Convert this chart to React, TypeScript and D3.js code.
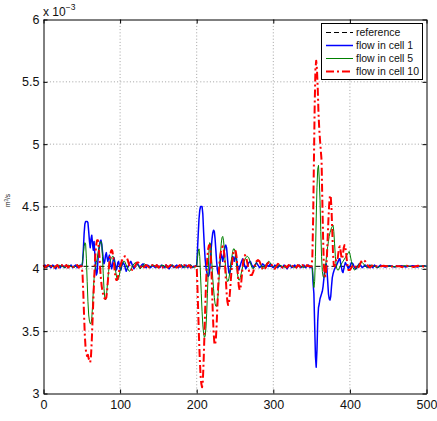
import * as d3 from "d3";
import { useEffect, useRef } from "react";

// flow (x 10^-3 m^3/s) against time step
type Pt = [number, number];

const X_TICKS = [0, 100, 200, 300, 400, 500];
const Y_TICKS = [3, 3.5, 4, 4.5, 5, 5.5, 6];
const SERIES_NAMES = ["reference", "flow in cell 1", "flow in cell 5", "flow in cell 10"];

const REFERENCE: Pt[] = [[0, 4.02], [500, 4.02]];

const CELL1: Pt[] = [
  [0,4.02],[2,4.03],[4,4.01],[6,4.03],[8,4.02],[10,4.01],[12,4.03],[14,4.02],[16,4.00],[18,4.03],[20,4.02],[22,4.01],[24,4.03],[26,4.02],[28,4.01],[30,4.03],[32,4.01],[34,4.02],[36,4.03],[38,4.01],[40,4.02],[42,4.03],[44,4.01],[46,4.02],[48,4.03],[50,4.02],
  [51,4.05],[52,4.15],[53,4.28],[54,4.36],[55,4.38],[57,4.38],[58,4.37],[59,4.30],[60,4.22],[61,4.17],[62,4.24],[63,4.27],[64,4.20],[65,4.15],[66,4.22],[67,4.12],[68,4.00],[69,3.95],[70,3.97],[71,4.06],[72,4.14],[73,4.18],[74,4.22],[75,4.23],[76,4.20],[77,4.14],[78,4.08],[79,4.04],[80,4.06],[81,4.11],[82,4.13],[83,4.09],[84,4.06],[85,4.09],[86,4.11],[87,4.07],[88,4.03],[89,4.00],[90,4.03],[91,4.07],[92,4.09],[93,4.06],[94,4.02],[95,3.99],[96,4.01],[97,4.05],[98,4.06],[99,4.03],[100,4.00],[101,3.99],[102,4.02],[104,4.05],[106,4.03],[107,4.00],[108,3.98],[110,4.01],[112,4.04],[114,4.06],[116,4.03],[118,4.00],[120,4.02],[122,4.05],[124,4.03],[126,4.01],[128,4.03],[130,4.04],[132,4.02],[134,4.01],[136,4.03],[138,4.02],[140,4.01],[142,4.03],[144,4.02],
  [146,4.01],[148,4.03],[150,4.02],[152,4.01],[154,4.03],[156,4.02],[158,4.01],[160,4.03],[162,4.02],[164,4.00],[166,4.02],[168,4.03],[170,4.01],[172,4.02],[174,4.03],[176,4.01],[178,4.02],[180,4.03],[182,4.01],[184,4.02],[186,4.03],[188,4.01],[190,4.02],[192,4.03],[194,4.01],[196,4.02],[198,4.02],
  [200,4.03],[201,4.15],[202,4.28],[203,4.40],[204,4.47],[205,4.50],[207,4.50],[208,4.44],[209,4.30],[210,4.18],[211,4.08],[212,4.02],[213,3.98],[214,3.95],[215,3.94],[216,3.95],[217,3.99],[218,4.08],[219,4.17],[220,4.24],[221,4.29],[222,4.31],[223,4.30],[224,4.24],[225,4.15],[226,4.06],[227,3.99],[228,3.96],[229,3.97],[230,4.02],[231,4.08],[232,4.12],[233,4.10],[234,4.06],[235,4.09],[236,4.14],[237,4.18],[238,4.19],[239,4.17],[240,4.10],[241,4.02],[242,3.97],[243,3.96],[244,3.99],[245,4.04],[246,4.08],[247,4.10],[248,4.09],[249,4.06],[250,4.09],[251,4.11],[252,4.08],[253,4.03],[254,4.00],[255,3.99],[256,4.01],[258,4.05],[260,4.08],[261,4.07],[262,4.04],[264,4.00],[266,4.02],[268,4.05],[270,4.06],[272,4.03],[274,4.01],[276,4.03],[278,4.05],[280,4.03],[282,4.01],[284,4.02],[286,4.04],[288,4.03],[290,4.01],[292,4.03],[294,4.02],[296,4.04],[298,4.02],[300,4.01],
  [302,4.03],[304,4.02],[306,4.01],[308,4.03],[310,4.02],[312,4.01],[314,4.03],[316,4.02],[318,4.00],[320,4.02],[322,4.03],[324,4.01],[326,4.02],[328,4.03],[330,4.01],[332,4.02],[334,4.03],[336,4.01],[338,4.02],[340,4.03],[342,4.01],[344,4.02],[346,4.03],[348,4.01],[350,4.02],
  [351,4.00],[352,3.88],[353,3.80],[354,3.55],[355,3.30],[356,3.21],[357,3.35],[358,3.58],[359,3.69],[360,3.72],[361,3.76],[362,3.78],[363,3.80],[364,3.82],[365,3.86],[366,3.92],[367,3.98],[368,4.03],[369,4.04],[370,4.00],[371,3.90],[372,3.80],[373,3.76],[374,3.75],[375,3.78],[376,3.86],[377,3.93],[378,3.96],[379,3.98],[380,4.00],[382,4.02],[384,4.05],[386,4.08],[387,4.08],[388,4.04],[390,3.98],[391,3.97],[392,4.00],[394,4.05],[396,4.03],[398,4.00],[400,4.02],[402,4.05],[404,4.04],[406,4.01],[408,4.00],[410,4.02],[412,4.04],[414,4.03],[416,4.01],[418,4.02],[420,4.03],[422,4.02],
  [424,4.01],[426,4.03],[428,4.02],[430,4.01],[432,4.03],[434,4.02],[436,4.01],[438,4.02],[440,4.03],[443,4.02],[446,4.015],[449,4.02],[452,4.025],[455,4.02],[458,4.015],[461,4.02],[464,4.02],[467,4.025],[470,4.02],[473,4.015],[476,4.02],[479,4.02],[482,4.025],[485,4.02],[488,4.015],[491,4.02],[494,4.02],[497,4.025],[500,4.02],
];

const CELL5: Pt[] = [
  [0,4.02],[4,4.01],[8,4.03],[12,4.02],[16,4.01],[20,4.03],[24,4.02],[28,4.01],[32,4.03],[36,4.02],[40,4.01],[44,4.03],[48,4.02],
  [50,4.02],[51,4.06],[52,4.12],[53,4.18],[54,4.21],[55,4.20],[56,4.08],[57,3.90],[58,3.74],[59,3.63],[60,3.58],[61,3.56],[62,3.56],[63,3.60],[64,3.70],[65,3.82],[66,3.92],[67,3.98],[68,4.02],[69,4.05],[70,4.08],[71,4.12],[72,4.16],[73,4.19],[74,4.21],[75,4.22],[76,4.20],[77,4.10],[78,3.96],[79,3.84],[80,3.77],[81,3.75],[82,3.77],[83,3.84],[84,3.92],[85,3.98],[86,4.03],[87,4.06],[88,4.08],[89,4.09],[90,4.10],[91,4.10],[92,4.08],[93,4.04],[94,3.99],[95,3.95],[96,3.92],[97,3.91],[98,3.92],[99,3.95],[100,3.98],[102,4.03],[104,4.06],[106,4.06],[108,4.03],[110,4.00],[112,3.98],[114,3.99],[116,4.02],[118,4.04],[120,4.05],[122,4.04],[124,4.02],[126,4.00],[128,4.01],[130,4.03],[132,4.04],[134,4.03],[136,4.02],[138,4.01],[140,4.02],
  [144,4.03],[148,4.01],[152,4.02],[156,4.03],[160,4.01],[164,4.02],[168,4.03],[172,4.01],[176,4.02],[180,4.03],[184,4.01],[188,4.02],[192,4.03],[196,4.01],
  [200,4.02],[201,4.08],[202,4.14],[203,4.16],[204,4.10],[205,3.95],[206,3.80],[207,3.66],[208,3.55],[209,3.48],[210,3.45],[211,3.46],[212,3.52],[213,3.64],[214,3.80],[215,3.98],[216,4.14],[217,4.21],[218,4.20],[219,4.12],[220,4.02],[221,3.92],[222,3.84],[223,3.77],[224,3.72],[225,3.70],[226,3.70],[227,3.73],[228,3.80],[229,3.90],[230,4.02],[231,4.12],[232,4.20],[233,4.25],[234,4.26],[235,4.23],[236,4.16],[237,4.07],[238,3.99],[239,3.93],[240,3.90],[241,3.90],[242,3.92],[243,3.96],[244,4.01],[245,4.06],[246,4.10],[247,4.14],[248,4.16],[249,4.16],[250,4.14],[251,4.09],[252,4.03],[253,3.97],[254,3.93],[255,3.91],[256,3.91],[257,3.93],[258,3.96],[260,4.02],[262,4.06],[264,4.09],[266,4.10],[268,4.09],[270,4.05],[272,4.01],[274,4.00],[276,4.02],[278,4.05],[280,4.07],[282,4.06],[284,4.03],[286,4.00],[288,4.01],[290,4.03],[292,4.05],[294,4.06],[296,4.05],[298,4.03],[300,4.02],
  [304,4.01],[308,4.03],[312,4.02],[316,4.01],[320,4.03],[324,4.02],[328,4.01],[332,4.03],[336,4.02],[340,4.01],[344,4.03],[348,4.02],
  [350,4.02],[351,4.00],[352,3.92],[353,3.85],[354,3.90],[355,4.10],[356,4.40],[357,4.65],[358,4.80],[359,4.83],[360,4.72],[361,4.55],[362,4.30],[363,4.10],[364,3.98],[365,3.94],[366,3.93],[367,3.95],[368,4.00],[369,4.07],[370,4.13],[371,4.18],[372,4.22],[373,4.26],[374,4.29],[375,4.31],[376,4.33],[377,4.34],[378,4.35],[379,4.30],[380,4.20],[381,4.10],[382,4.03],[383,4.00],[384,3.99],[385,3.99],[386,4.00],[388,4.03],[390,4.05],[392,4.07],[394,4.09],[396,4.11],[398,4.13],[399,4.14],[400,4.12],[402,4.06],[404,4.01],[406,3.99],[408,4.00],[410,4.02],[412,4.04],[414,4.05],[416,4.05],[418,4.04],[420,4.02],[422,4.01],[424,4.02],
  [428,4.03],[432,4.02],[436,4.01],[440,4.02],[444,4.02],[448,4.025],[452,4.02],[456,4.02],[460,4.015],[464,4.02],[468,4.02],[472,4.025],[476,4.02],[480,4.02],[484,4.015],[488,4.02],[492,4.02],[496,4.025],[500,4.02],
];

const CELL10: Pt[] = [
  [0,4.03],[2,4.01],[4,4.02],[6,4.03],[8,4.01],[10,4.02],[12,4.03],[14,4.01],[16,4.02],[18,4.03],[20,4.01],[22,4.02],[24,4.03],[26,4.01],[28,4.02],[30,4.03],[32,4.01],[34,4.02],[36,4.03],[38,4.02],[40,4.01],[42,4.02],[44,4.03],[46,4.01],[48,4.02],
  [50,4.02],[51,3.95],[52,3.80],[53,3.62],[54,3.46],[55,3.36],[56,3.32],[57,3.30],[58,3.31],[59,3.28],[60,3.26],[61,3.25],[62,3.30],[63,3.42],[64,3.58],[65,3.74],[66,3.90],[67,4.04],[68,4.14],[69,4.20],[70,4.23],[71,4.23],[72,4.18],[73,4.10],[74,4.00],[75,3.92],[76,3.86],[77,3.82],[78,3.79],[79,3.77],[80,3.76],[81,3.76],[82,3.77],[83,3.82],[84,3.90],[85,3.98],[86,4.06],[87,4.11],[88,4.14],[89,4.15],[90,4.14],[91,4.10],[92,4.04],[93,3.98],[94,3.93],[95,3.91],[96,3.91],[97,3.93],[98,3.96],[100,4.02],[102,4.06],[104,4.09],[106,4.10],[108,4.10],[110,4.07],[112,4.03],[114,4.00],[116,3.99],[118,4.00],[120,4.03],[122,4.05],[124,4.05],[126,4.03],[128,4.01],[130,4.00],[132,4.02],[134,4.03],[136,4.02],[138,4.01],[140,4.02],
  [142,4.03],[144,4.01],[146,4.02],[148,4.03],[150,4.01],[152,4.02],[154,4.03],[156,4.01],[158,4.02],[160,4.03],[162,4.01],[164,4.02],[166,4.03],[168,4.01],[170,4.02],[172,4.03],[174,4.01],[176,4.02],[178,4.03],[180,4.01],[182,4.02],[184,4.03],[186,4.01],[188,4.02],[190,4.03],[192,4.01],[194,4.02],[196,4.03],[198,4.02],
  [200,4.02],[201,3.85],[202,3.65],[203,3.45],[204,3.28],[205,3.15],[206,3.08],[207,3.05],[208,3.10],[209,3.25],[210,3.45],[211,3.66],[212,3.85],[213,4.00],[214,4.10],[215,4.16],[216,4.19],[217,4.19],[218,4.15],[219,4.02],[220,3.85],[221,3.65],[222,3.50],[223,3.41],[224,3.39],[225,3.43],[226,3.55],[227,3.70],[228,3.85],[229,3.98],[230,4.07],[231,4.12],[232,4.15],[233,4.17],[234,4.18],[235,4.17],[236,4.12],[237,4.03],[238,3.92],[239,3.81],[240,3.74],[241,3.71],[242,3.72],[243,3.78],[244,3.86],[245,3.95],[246,4.03],[247,4.09],[248,4.13],[249,4.15],[250,4.15],[251,4.14],[252,4.10],[253,4.02],[254,3.93],[255,3.86],[256,3.83],[257,3.84],[258,3.88],[259,3.95],[260,4.02],[261,4.07],[262,4.10],[263,4.11],[264,4.10],[265,4.08],[266,4.05],[268,3.99],[270,3.95],[272,3.95],[274,3.98],[276,4.03],[278,4.06],[280,4.07],[282,4.06],[284,4.03],[286,4.00],[288,3.99],[290,4.01],[292,4.04],[294,4.05],[296,4.05],[298,4.03],[300,4.01],[302,4.00],[304,4.02],[306,4.04],[308,4.03],[310,4.02],
  [312,4.01],[314,4.03],[316,4.02],[318,4.01],[320,4.03],[322,4.02],[324,4.01],[326,4.03],[328,4.02],[330,4.01],[332,4.03],[334,4.02],[336,4.01],[338,4.03],[340,4.02],[342,4.01],[344,4.03],[346,4.02],[348,4.02],
  [350,4.02],[351,4.10],[352,4.40],[353,4.85],[354,5.30],[355,5.60],[356,5.67],[357,5.60],[358,5.45],[359,5.25],[360,5.12],[361,5.03],[362,4.95],[363,4.87],[364,4.55],[365,4.25],[366,4.03],[367,3.95],[368,3.94],[369,3.99],[370,4.10],[371,4.25],[372,4.40],[373,4.52],[374,4.59],[375,4.58],[376,4.48],[377,4.30],[378,4.12],[379,4.03],[380,4.02],[381,4.05],[382,4.07],[383,4.06],[384,4.08],[385,4.13],[386,4.17],[387,4.18],[388,4.14],[389,4.09],[390,4.08],[391,4.12],[392,4.17],[393,4.19],[394,4.18],[395,4.13],[396,4.07],[397,4.02],[398,3.99],[400,3.99],[402,4.01],[404,4.03],[406,4.03],[408,4.01],[410,4.00],[412,4.02],[414,4.05],[416,4.07],[418,4.07],[420,4.06],[422,4.04],[424,4.02],[426,4.01],[428,4.02],[430,4.03],[432,4.02],
  [435,4.02],[438,4.015],[441,4.02],[444,4.025],[447,4.02],[450,4.02],[453,4.015],[456,4.02],[459,4.025],[462,4.02],[465,4.02],[468,4.015],[471,4.02],[474,4.025],[477,4.02],[480,4.02],[483,4.015],[486,4.02],[489,4.025],[492,4.02],[495,4.02],[498,4.015],[500,4.02],
];

const SERIES = [
  { name: SERIES_NAMES[0], data: REFERENCE, color: "#000000", width: 1, dash: "5,3" },
  { name: SERIES_NAMES[1], data: CELL1, color: "#0000ff", width: 1.5, dash: null },
  { name: SERIES_NAMES[2], data: CELL5, color: "#008000", width: 1, dash: null },
  { name: SERIES_NAMES[3], data: CELL10, color: "#ff0000", width: 2, dash: "8,3,2,3" },
];

const FONT = "'Liberation Sans', Arial, Helvetica, sans-serif";

export default function App() {
  const ref = useRef<SVGSVGElement>(null);
  useEffect(() => {
    if (!ref.current) return;
    const svg = d3.select(ref.current);
    svg.selectAll("*").remove();
    const L = 43.5, R = 426.5, T = 19.5, B = 393.5;
    const x = d3.scaleLinear().domain([0, 500]).range([L, R]);
    const y = d3.scaleLinear().domain([3, 6]).range([B, T]);

    // dotted grid
    const grid = svg.append("g").attr("stroke", "#8a8a8a").attr("stroke-width", 0.8)
      .attr("stroke-dasharray", "1,2.2");
    X_TICKS.slice(1, -1).forEach((t) => {
      grid.append("line").attr("x1", x(t)).attr("x2", x(t)).attr("y1", T).attr("y2", B);
    });
    Y_TICKS.slice(1, -1).forEach((t) => {
      grid.append("line").attr("x1", L).attr("x2", R).attr("y1", y(t)).attr("y2", y(t));
    });

    const line = d3.line<Pt>().x((d) => x(d[0])).y((d) => y(d[1]));
    SERIES.forEach((s) => {
      svg.append("path").attr("d", line(s.data)).attr("fill", "none")
        .attr("stroke", s.color).attr("stroke-width", s.width)
        .attr("stroke-dasharray", s.dash)
        .attr("stroke-linejoin", "round");
    });

    // axes box with inward ticks
    const styleAxis = (g: d3.Selection<SVGGElement, unknown, null, undefined>) => {
      g.attr("font-family", FONT).attr("font-size", 12.5);
      g.selectAll("path.domain").attr("stroke", "#000").attr("stroke-width", 1);
      g.selectAll(".tick line").attr("stroke", "#000");
      g.selectAll(".tick text").attr("fill", "#111");
    };
    svg.append("g").attr("transform", `translate(0,${B})`)
      .call(d3.axisBottom(x).tickValues(X_TICKS).tickSizeInner(-4).tickSizeOuter(0).tickPadding(6.5))
      .call(styleAxis);
    svg.append("g").attr("transform", `translate(0,${T})`)
      .call(d3.axisTop(x).tickValues(X_TICKS).tickSizeInner(-4).tickSizeOuter(0).tickFormat(() => ""))
      .call(styleAxis);
    svg.append("g").attr("transform", `translate(${L},0)`)
      .call(d3.axisLeft(y).tickValues(Y_TICKS).tickSizeInner(-4).tickSizeOuter(0).tickPadding(4)
        .tickFormat((d) => d3.format("~g")(d as number)))
      .call(styleAxis);
    svg.append("g").attr("transform", `translate(${R},0)`)
      .call(d3.axisRight(y).tickValues(Y_TICKS).tickSizeInner(-4).tickSizeOuter(0).tickFormat(() => ""))
      .call(styleAxis);

    // exponent label
    const ex = svg.append("text").attr("x", 43).attr("y", 15.5)
      .attr("font-family", FONT).attr("font-size", 12).attr("fill", "#111");
    ex.append("tspan").text("x 10");
    ex.append("tspan").attr("font-size", 8.5).attr("dy", -6).text("−3");

    // y label
    const yl = svg.append("text").attr("transform", "translate(10,200.5) rotate(-90)")
      .attr("text-anchor", "middle").attr("font-family", FONT).attr("font-size", 6.5).attr("fill", "#111");
    yl.append("tspan").text("m");
    yl.append("tspan").attr("font-size", 4.5).attr("dy", -2.5).text("3");
    yl.append("tspan").attr("dy", 2.5).text("/s");

    // legend
    const lg = svg.append("g");
    lg.append("rect").attr("x", 321.5).attr("y", 23.5).attr("width", 101).attr("height", 56)
      .attr("fill", "#fff").attr("stroke", "#000").attr("stroke-width", 1);
    const rows = [32.5, 45.5, 58.5, 71.5];
    SERIES.forEach((s, i) => {
      lg.append("line").attr("x1", 326).attr("x2", 353).attr("y1", rows[i]).attr("y2", rows[i])
        .attr("stroke", s.color).attr("stroke-width", s.width).attr("stroke-dasharray", s.dash);
      lg.append("text").attr("x", 356).attr("y", rows[i]).attr("dy", "0.35em")
        .attr("font-family", FONT).attr("font-size", 10.5).attr("fill", "#111").text(s.name);
    });
  }, []);
  return (
    <svg ref={ref} width={437} height={421}
      style={{ position: "absolute", left: 0, top: 0, background: "#fff" }} />
  );
}
